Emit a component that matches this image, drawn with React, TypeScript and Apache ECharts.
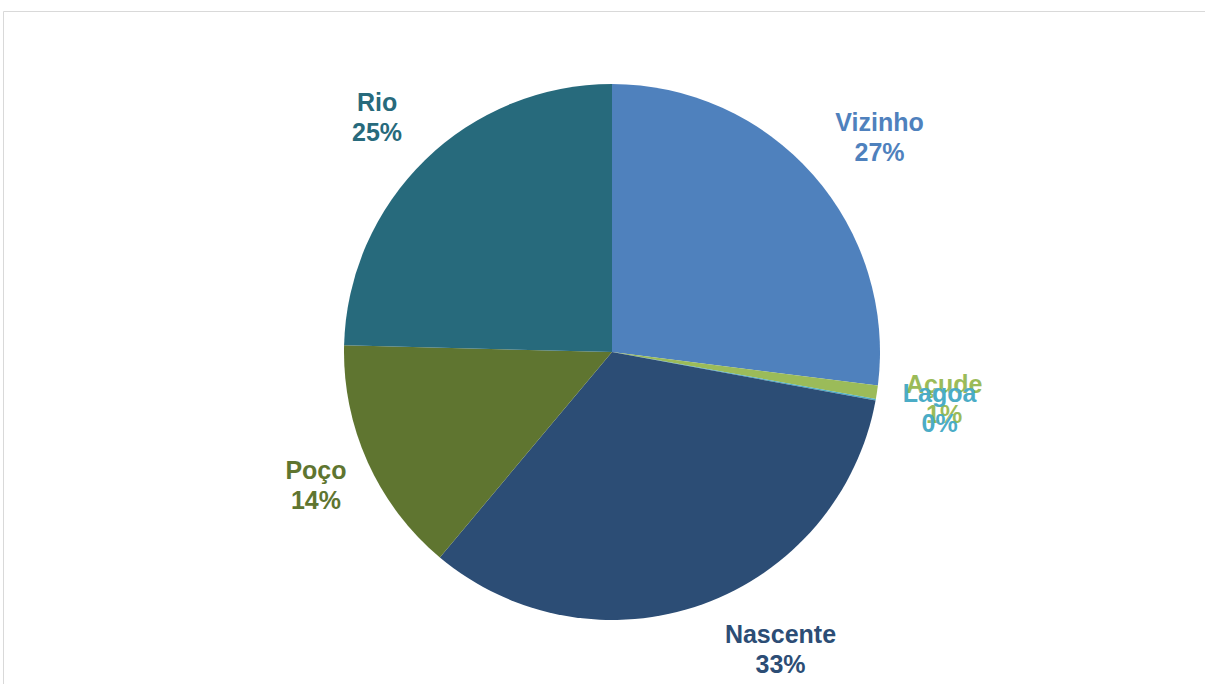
import React, { useEffect, useRef } from "react";
import * as echarts from "echarts";

const categories = ["Vizinho", "Açude", "Lagoa", "Nascente", "Poço", "Rio"];
const values = [27.0, 0.8, 0.1, 33.2, 14.3, 24.6];
const colors = ["#4F81BD", "#9BBB59", "#4BACC6", "#2C4D75", "#5F7530", "#276A7C"];
const labelOffsets: Record<string, number[]> = {
  Vizinho: [14, 9],
  "Açude": [-2, -4],
  Lagoa: [-5, -4],
  Nascente: [54, -21],
  "Poço": [12, -6],
  Rio: [1, 7],
};

export default function App() {
  const ref = useRef<HTMLDivElement>(null);
  useEffect(() => {
    const chart = echarts.init(ref.current!, undefined, { renderer: "svg" });
    const total = values.reduce((a, b) => a + b, 0);
    const pieData = categories.map((c, i) => ({
      name: c,
      value: values[i],
      itemStyle: { color: colors[i] },
    }));
    const labelData = categories.map((c, i) => ({
      name: c,
      value: values[i],
      itemStyle: { color: "rgba(0,0,0,0)" },
      label: {
        color: colors[i],
        offset: labelOffsets[c] || [0, 0],
      },
    }));
    chart.setOption({
      animation: false,
      backgroundColor: "#ffffff",
      graphic: [
        {
          type: "rect",
          shape: { x: 3.5, y: 11.5, width: 1220, height: 700 },
          style: { fill: "none", stroke: "#D9D9D9", lineWidth: 1 },
          silent: true,
        },
      ],
      series: [
        {
          type: "pie",
          center: [612, 352],
          radius: [0, 268],
          startAngle: 90,
          clockwise: true,
          data: pieData,
          label: { show: false },
          labelLine: { show: false },
          itemStyle: { borderWidth: 0 },
          silent: true,
        },
        {
          type: "pie",
          center: [612, 352],
          radius: [310, 360],
          startAngle: 90,
          clockwise: true,
          data: labelData,
          silent: true,
          avoidLabelOverlap: false,
          minShowLabelAngle: 0,
          labelLine: { show: false },
          labelLayout: { hideOverlap: false },
          label: {
            show: true,
            position: "inside",
            fontFamily: "Liberation Sans, Arial, sans-serif",
            fontWeight: "bold",
            fontSize: 25,
            lineHeight: 30,
            align: "center",
            formatter: (p: any) => `${p.name}\n${Math.round((p.value / total) * 100)}%`,
          },
        },
      ],
    });
    return () => chart.dispose();
  }, []);
  return (
    <div
      ref={ref}
      style={{ position: "fixed", left: 0, top: 0, width: 1205, height: 684 }}
    />
  );
}
